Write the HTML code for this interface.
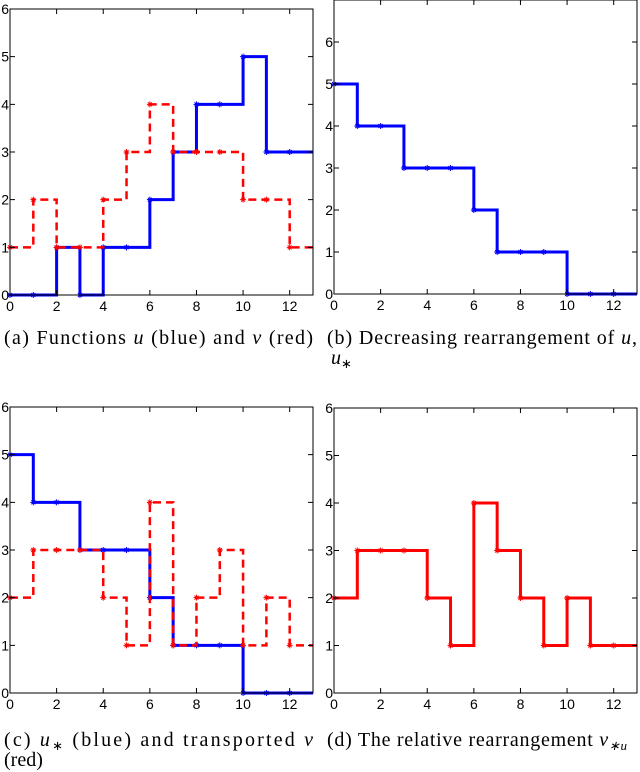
<!DOCTYPE html>
<html><head><meta charset="utf-8"><style>
body{margin:0;background:#fff}
svg{display:block}
.tk{font-family:"Liberation Sans",sans-serif;font-size:14px;fill:#000}
.cap{font-family:"Liberation Serif",serif;font-size:20px;fill:#000}
</style></head><body>
<svg id="fig" width="640" height="772" viewBox="0 0 640 772" xmlns="http://www.w3.org/2000/svg">
<text class="cap" x="4" y="344" textLength="309" lengthAdjust="spacing">(a) Functions <tspan font-style="italic">u</tspan> (blue) and <tspan font-style="italic">v</tspan> (red)</text>
<text class="cap" x="327" y="344" textLength="310" lengthAdjust="spacing">(b) Decreasing rearrangement of <tspan font-style="italic">u</tspan>,</text>
<text class="cap" x="331" y="364"><tspan font-style="italic">u</tspan><tspan font-size="13" dy="4">∗</tspan></text>
<text class="cap" x="4" y="746" textLength="309" lengthAdjust="spacing">(c) <tspan font-style="italic">u</tspan><tspan font-size="13" dy="4">∗</tspan><tspan dy="-4"> (blue) and transported </tspan><tspan font-style="italic">v</tspan></text>
<text class="cap" x="4" y="766">(red)</text>
<text class="cap" x="327" y="746" textLength="300" lengthAdjust="spacing">(d) The relative rearrangement <tspan font-style="italic">v</tspan><tspan font-size="13" dy="4" font-style="italic">∗u</tspan></text>
</svg>
<script>
const uVals=[0,0,1,0,1,1,2,3,4,4,5,3,3];
const vVals=[1,2,1,1,2,3,4,3,3,3,2,2,1];
const uStar=[5,4,4,3,3,3,2,1,1,1,0,0,0];
const vTrans=[2,3,3,3,2,1,4,1,2,3,1,2,1];
const vStarU=[2,3,3,3,2,1,4,3,2,1,2,1,1];
const xTicks=[0,2,4,6,8,10,12];
const NS="http://www.w3.org/2000/svg";
const svg=document.getElementById('fig');
function mk(tag,attrs,parent){const e=document.createElementNS(NS,tag);for(const k in attrs)e.setAttribute(k,attrs[k]);(parent||svg).appendChild(e);return e;}
function panel(name,L,R,T,B,yMax,series){
  const g=mk('g',{});
  
  
  const sx=x=>L+(R-L)*x/13, sy=y=>B-(B-T)*y/yMax;
  series.forEach(s=>{
    let d='M'+sx(0)+','+sy(s.vals[0]);
    for(let i=0;i<s.vals.length;i++){
      d+=' L'+sx(i)+','+sy(s.vals[i])+' L'+sx(i+1>13?13:i+1)+','+sy(s.vals[i]);
    }
    const p=mk('path',{d:d,fill:'none',stroke:s.color,'stroke-width':s.w||3,'stroke-dasharray':s.dash||'none'},g);
    
    
    s.vals.forEach((v,i)=>{
      const m=mk('path',{d:`M${sx(i)-3},${sy(v)} h6 M${sx(i)},${sy(v)-3} v6 M${sx(i)-2},${sy(v)-2} l4,4 M${sx(i)-2},${sy(v)+2} l4,-4`,stroke:s.color,'stroke-width':1},g);
      
      
    });
  });
  const f=mk('rect',{x:L,y:T,width:R-L,height:B-T,fill:'none',stroke:'#000','stroke-width':1},g);
  
  
  xTicks.forEach(t=>{
    mk('path',{d:`M${sx(t)},${B} v-5 M${sx(t)},${T} v5`,stroke:'#000','stroke-width':1},g);
    const tx=mk('text',{x:sx(t),y:B+16,'text-anchor':'middle',class:'tk'},g);
    tx.textContent=t;
    
    
  });
  for(let t=0;t<=yMax;t++){
    mk('path',{d:`M${L},${sy(t)} h5 M${R},${sy(t)} h-5`,stroke:'#000','stroke-width':1},g);
    if(t===yMax && T<5) continue;
    const ty=mk('text',{x:L-1,y:sy(t)+5,'text-anchor':'end',class:'tk'},g);
    ty.textContent=t;
    
    
  }
}
panel('panel-a',10,313,9,295,6,[
  {name:'u-series',vals:uVals,color:'#0000ff',w:3},
  {name:'v-series',vals:vVals,color:'#ff0000',w:2.5,dash:'8,5'}]);
panel('panel-b',334,637,0,294,7,[
  {name:'u-star-series',vals:uStar,color:'#0000ff',w:3}]);
panel('panel-c',10,313,407,693,6,[
  {name:'u-star-series',vals:uStar,color:'#0000ff',w:3},
  {name:'v-transported-series',vals:vTrans,color:'#ff0000',w:2.5,dash:'8,5'}]);
panel('panel-d',334,637,408,693,6,[
  {name:'v-star-u-series',vals:vStarU,color:'#ff0000',w:3}]);
</script>
</body></html>
